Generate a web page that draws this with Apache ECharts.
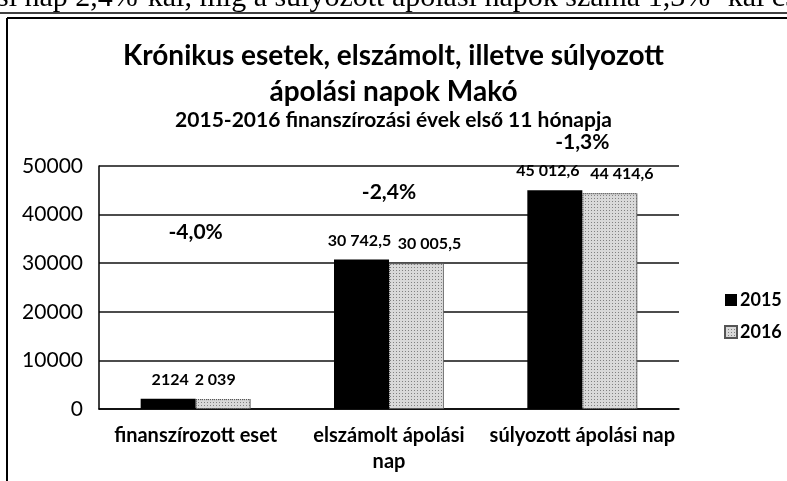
<!DOCTYPE html>
<html>
<head>
<meta charset="utf-8">
<script src="https://cdn.jsdelivr.net/npm/echarts@6/dist/echarts.min.js"></script>
<style>
  html, body { margin: 0; padding: 0; background: #fff; }
  #chart { width: 787px; height: 481px; }
</style>
</head>
<body>
<div id="chart"></div>
<script>
// adatok
var categories = ["finanszírozott eset", "elszámolt ápolási\nnap", "súlyozott ápolási nap"];
var years = ["2015", "2016"];
var values2015 = [2124, 30742.5, 45012.6];
var values2016 = [2039, 30005.5, 44414.6];
var labels2015 = ["2124", "30 742,5", "45 012,6"];
var labels2016 = ["2 039", "30 005,5", "44 414,6"];
var yTicks = [0, 10000, 20000, 30000, 40000, 50000];

// változás %-ban, magyar tizedesvesszővel
var changes = values2015.map(function (v, i) {
  return ((values2016[i] - v) / v * 100).toFixed(1).replace(".", ",") + "%";
});
var tops = values2015.map(function (v, i) { return Math.max(v, values2016[i]); });
var changeOffsets = [-166, -67, -48];
var shift2015 = [2, -2, -7];
var shift2016 = [-8, 13, 12];

var font = "Lato";
var chart = echarts.init(document.getElementById("chart"));

function barLabel(texts) {
  return {
    show: true,
    position: "top",
    distance: 11,
    fontFamily: font,
    fontWeight: "bold",
    fontSize: 16,
    color: "#000",
    formatter: function (p) { return texts[p.dataIndex]; }
  };
}

var option = {
  backgroundColor: "#fff",
  animation: false,
  title: [
    {
      text: "Krónikus esetek, elszámolt, illetve súlyozott\nápolási napok Makó",
      left: "center",
      top: 38,
      padding: 0,
      textStyle: { fontFamily: font, fontWeight: "bold", fontSize: 28, lineHeight: 36, color: "#000" }
    },
    {
      text: "2015-2016 finanszírozási évek első 11 hónapja",
      left: "center",
      top: 110,
      padding: 0,
      textStyle: { fontFamily: font, fontWeight: "bold", fontSize: 21, color: "#000" }
    }
  ],
  legend: {
    data: years,
    orient: "vertical",
    left: 719,
    top: 286,
    itemWidth: 12,
    itemHeight: 12,
    itemGap: 14,
    icon: "rect",
    textStyle: { fontFamily: font, fontWeight: "bold", fontSize: 18, color: "#000", padding: [0, 0, 0, -2] }
  },
  grid: { left: 99, right: 108, top: 166, bottom: 72 },
  xAxis: {
    type: "category",
    data: categories,
    axisLine: { lineStyle: { color: "#000", width: 1.5 } },
    axisTick: { show: false },
    axisLabel: { interval: 0, fontFamily: font, fontWeight: "bold", fontSize: 20, lineHeight: 26, color: "#000", margin: 14 }
  },
  yAxis: {
    type: "value",
    min: yTicks[0],
    max: yTicks[yTicks.length - 1],
    interval: yTicks[1] - yTicks[0],
    axisLine: { show: true, lineStyle: { color: "#000", width: 1.5 } },
    axisTick: { show: false },
    splitLine: { lineStyle: { color: "#111", width: 1.5 } },
    axisLabel: {
      fontFamily: font, fontSize: 21, color: "#000", margin: 16,
      formatter: function (v) { return String(v); }
    }
  },
  series: [
    {
      name: years[0],
      type: "bar",
      barWidth: 55,
      barGap: "0%",
      itemStyle: { color: "#000" },
      label: barLabel(labels2015),
      data: values2015.map(function (v, i) {
        return { value: v, label: { offset: [shift2015[i], 0] } };
      })
    },
    {
      name: years[1],
      type: "bar",
      barWidth: 55,
      itemStyle: {
        color: "#d9d9d9",
        borderColor: "#555",
        borderWidth: 1,
        borderType: "dotted",
        decal: {
          symbol: "rect",
          symbolSize: 1,
          dashArrayX: [1, 2],
          dashArrayY: [1, 2],
          color: "rgba(70,70,70,0.6)"
        }
      },
      label: barLabel(labels2016),
      data: values2016.map(function (v, i) {
        return { value: v, label: { offset: [shift2016[i], 0] } };
      })
    },
    {
      // százalékos változás feliratok
      type: "scatter",
      silent: true,
      symbolSize: 0,
      itemStyle: { color: "#000", opacity: 1 },
      label: {
        show: true,
        position: "inside",
        fontFamily: font,
        fontWeight: "bold",
        fontSize: 21,
        color: "#000",
        opacity: 1,
        textBorderWidth: 0,
        formatter: function (p) { return changes[p.dataIndex]; }
      },
      data: tops.map(function (t, i) {
        return { value: t, label: { offset: [0, changeOffsets[i]] } };
      })
    }
  ],
  graphic: [
    {
      type: "text",
      left: -3,
      top: -17,
      style: { text: "si nap 2,4%-kal, míg a súlyozott ápolási napok száma 1,3% -kal cs", font: "30px 'Liberation Serif'", fill: "#000" }
    },
    { type: "line", shape: { x1: 0, y1: 13, x2: 787, y2: 13 }, style: { stroke: "#000", lineWidth: 1.5 } },
    { type: "line", shape: { x1: 7, y1: 18, x2: 787, y2: 18 }, style: { stroke: "#000", lineWidth: 2 } },
    { type: "line", shape: { x1: 7, y1: 18, x2: 7, y2: 481 }, style: { stroke: "#000", lineWidth: 2 } }
  ]
};

chart.setOption(option);
</script>
</body>
</html>
